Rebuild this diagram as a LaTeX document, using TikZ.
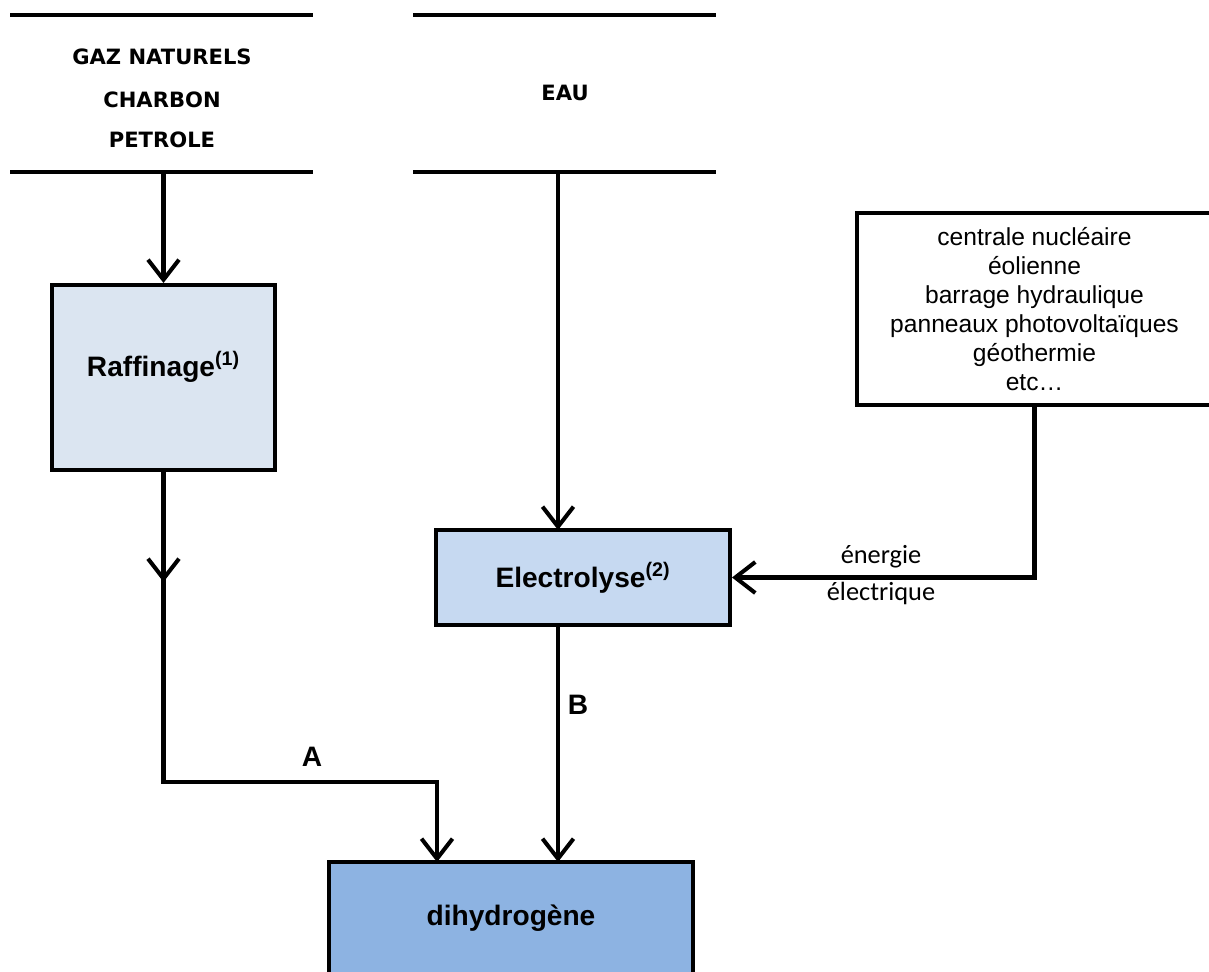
\documentclass[tikz,border=0pt]{standalone}
\usepackage{fontspec}
\setmainfont{Liberation Sans}
\newfontfamily\titrefont{DejaVu Sans}
\newfontfamily\calfont{Carlito}
\usetikzlibrary{arrows.meta}
\definecolor{colRaf}{HTML}{DBE5F1}
\definecolor{colElec}{HTML}{C6D9F1}
\definecolor{colDih}{HTML}{8DB3E2}

\begin{document}
\begin{tikzpicture}[x=0.02cm, y=-0.02cm, line width=2.3pt,
    boite/.style={rectangle, draw, line width=2.3pt, inner sep=0pt, font=\fontsize{16}{19}\selectfont\bfseries},
    gras/.style={font=\fontsize{16}{19}\selectfont\bfseries},
    fleche/.style={-{Straight Barb[length=0.4cm, width=0.62cm, line width=2.3pt]}},
    titre/.style={font=\titrefont\fontsize{12}{14}\selectfont\bfseries}]
    \useasboundingbox (0,0) rectangle (1209,972);

    % Sources
    \draw (10,15) -- (313,15);
    \draw (10,172) -- (313,172);
    \node[titre] (gaz) at (162,57) {GAZ NATURELS};
    \node[titre] (charbon) at (162,100) {CHARBON};
    \node[titre] (petrole) at (162,140) {PETROLE};

    \draw (413,15) -- (716,15);
    \draw (413,172) -- (716,172);
    \node[titre] (eau) at (565,93) {EAU};

    % Boites
    \node[boite, fill=colRaf, minimum width=4.46cm, minimum height=3.7cm] (raf) at (163.5,377.5) {};
    \node[gras] (rafT) at (163.5,367) {Raffinage\textsuperscript{(1)}};
    \node[boite, fill=colElec, minimum width=5.88cm, minimum height=1.9cm] (elec) at (583,577.5) {Electrolyse\textsuperscript{(2)}};
    \node[boite, fill=colDih, minimum width=7.28cm, minimum height=2.24cm] (dih) at (511,918) {dihydrogène};
    \node[rectangle, draw, fill=white, minimum width=7.1cm, minimum height=3.84cm, align=center,
          font=\fontsize{14}{16.5}\selectfont] (src) at (1034.5,309)
          {centrale nucléaire\\éolienne\\barrage hydraulique\\panneaux photovoltaïques\\géothermie\\etc\dots};

    % Points de passage
    \coordinate (gazbas) at (163.5,172);
    \coordinate (mi) at (163.5,582);
    \coordinate (coin) at (163.5,782);
    \coordinate (entA) at (437,862);
    \coordinate (eaubas) at (558,172);
    \coordinate (entE) at (558,530);
    \coordinate (sortE) at (558,625);
    \coordinate (entB) at (558,862);

    % Liaisons
    \draw[fleche] (gazbas) -- (raf.north);
    \draw[fleche] (raf.south) -- (coin) -| (entA);
    \draw[fleche] (raf.south) -- (mi);
    \draw[fleche] (eaubas) -- (entE);
    \draw[fleche] (sortE) -- (entB);
    \draw[fleche] (src.south) |- (elec.east);

    % Etiquettes
    \node[font=\calfont\fontsize{15}{18}\selectfont] (en1) at (881,557) {énergie};
    \node[font=\calfont\fontsize{15}{18}\selectfont] (en2) at (881,593) {électrique};
    \node[gras] (lA) at (312,757) {A};
    \node[gras] (lB) at (578,705) {B};
\end{tikzpicture}
\end{document}
